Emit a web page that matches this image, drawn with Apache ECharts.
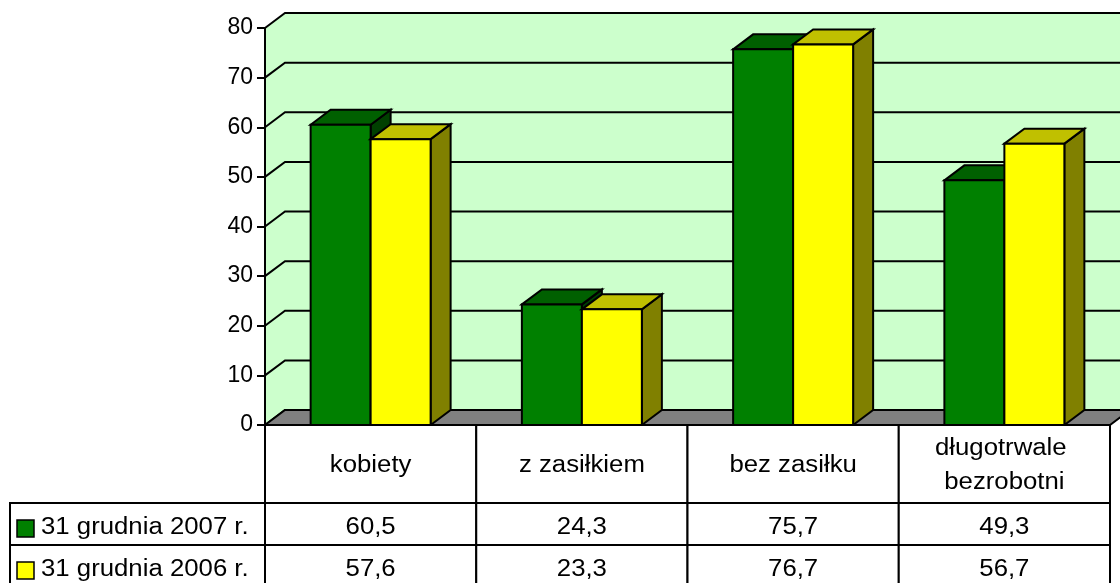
<!DOCTYPE html>
<html><head><meta charset="utf-8">
<script src="https://cdn.jsdelivr.net/npm/echarts/dist/echarts.min.js"></script>
<style>html,body{margin:0;padding:0;background:#fff}#c{width:1120px;height:583px}</style>
</head><body><div id="c"></div>
<script>
// ---- data ----
const categories = ['kobiety', 'z zasiłkiem', 'bez zasiłku', 'długotrwale bezrobotni'];
const seriesNames = ['31 grudnia 2007 r.', '31 grudnia 2006 r.'];
const values2007 = [60.5, 24.3, 75.7, 49.3];
const values2006 = [57.6, 23.3, 76.7, 56.7];
const yTicks = [0, 10, 20, 30, 40, 50, 60, 70, 80];

// ---- style ----
const DX = 20, DY = 15;            // 3D depth offset in px
const BAR_FRAC = 0.284;            // bar width as share of category band
const FONT = '"Liberation Sans", Arial, sans-serif';
const STRETCH = 1.12;              // horizontal stretch of table text
const HEADER_H = 78, ROW_H = 42, LEGEND_X = 10;
const FRONT = ['#008000', '#ffff00'];
const TOP = ['#006000', '#c0c000'];
const SIDE = ['#004000', '#808000'];
const WALL = '#ccffcc', FLOOR = '#808080';
const allValues = [values2007, values2006];

const chart = echarts.init(document.getElementById('c'));
const fmt = v => v.toFixed(1).replace('.', ',');
const line = {stroke: '#000', lineWidth: 2};

function barRender(s) {
  return function (params, api) {
    const cat = api.value(0), v = api.value(1);
    const top = api.coord([cat, v]), base = api.coord([cat, 0]);
    const band = api.size([1, 0])[0];
    const w = band * BAR_FRAC;
    const x0 = top[0] + (s === 0 ? -w : 0), x1 = x0 + w;
    const yT = top[1], yB = base[1];
    return {type: 'group', children: [
      {type: 'polygon', shape: {points: [[x1, yT], [x1 + DX, yT - DY], [x1 + DX, yB - DY], [x1, yB]]}, style: Object.assign({fill: SIDE[s]}, line)},
      {type: 'polygon', shape: {points: [[x0, yT], [x0 + DX, yT - DY], [x1 + DX, yT - DY], [x1, yT]]}, style: Object.assign({fill: TOP[s]}, line)},
      {type: 'rect', shape: {x: x0, y: yT, width: w, height: yB - yT}, style: Object.assign({fill: FRONT[s]}, line)}
    ]};
  };
}

function txt(x, y, text, align, extra) {
  return {type: 'text', x: x, y: y, scaleX: STRETCH,
    style: Object.assign({text: text, x: 0, y: 0, align: align, verticalAlign: 'middle',
      font: '23px ' + FONT, fill: '#000'}, extra || {})};
}

const option = {
  animation: false,
  grid: {left: 265, right: 10, top: 28, bottom: 158},
  xAxis: {type: 'category', data: categories, axisLine: {show: false}, axisTick: {show: false}, axisLabel: {show: false}},
  yAxis: {type: 'value', min: 0, max: 80, interval: 10, z: 10,
    axisLine: {show: true, lineStyle: {color: '#000', width: 2}},
    axisTick: {show: true, length: 8, lineStyle: {color: '#000', width: 2}},
    axisLabel: {color: '#000', fontSize: 23, fontFamily: FONT, margin: 12},
    splitLine: {show: false}},
  series: [
    { // walls
      type: 'custom', z: 1, silent: true, data: [[0, 0]],
      renderItem: function (params, api) {
        const cs = params.coordSys;
        const L = cs.x, R = cs.x + cs.width, T = cs.y, B = cs.y + cs.height;
        return {type: 'polygon', shape: {points: [[L, T], [L + DX, T - DY], [R + DX, T - DY], [R + DX, B - DY], [L + DX, B - DY], [L, B]]},
          style: {fill: WALL}};
      }
    },
    { // grid lines on the walls
      type: 'custom', z: 2, silent: true, data: yTicks.map(v => [0, v]),
      renderItem: function (params, api) {
        const cs = params.coordSys;
        const y = api.coord([0, api.value(1)])[1];
        return {type: 'polyline', shape: {points: [[cs.x, y], [cs.x + DX, y - DY], [cs.x + cs.width + DX, y - DY]]},
          style: {stroke: '#000', lineWidth: 2, fill: null}};
      }
    },
    { // floor
      type: 'custom', z: 3, silent: true, data: [[0, 0]],
      renderItem: function (params, api) {
        const cs = params.coordSys;
        const L = cs.x, R = cs.x + cs.width, B = cs.y + cs.height;
        return {type: 'polygon', shape: {points: [[L, B], [L + DX, B - DY], [R + DX, B - DY], [R, B]]},
          style: Object.assign({fill: FLOOR}, line)};
      }
    },
    {name: seriesNames[0], type: 'custom', z: 4, data: values2007.map((v, i) => [i, v]), renderItem: barRender(0)},
    {name: seriesNames[1], type: 'custom', z: 5, data: values2006.map((v, i) => [i, v]), renderItem: barRender(1)},
    { // data table
      type: 'custom', z: 6, silent: true, data: categories.map((c, i) => [i, 0]),
      renderItem: function (params, api) {
        const i = params.dataIndex;
        const p = api.coord([i, 0]);
        const band = api.size([1, 0])[0];
        const xl = p[0] - band / 2, y0 = p[1];
        const ch = [];
        ch.push({type: 'rect', shape: {x: xl, y: y0, width: band, height: HEADER_H}, style: Object.assign({fill: '#fff'}, line)});
        ch.push(txt(p[0], y0 + HEADER_H / 2 + 2, categories[i], 'center',
          {width: (band - 30) / STRETCH, overflow: 'break', lineHeight: 34}));
        for (let s = 0; s < 2; s++) {
          const ry = y0 + HEADER_H + s * ROW_H;
          ch.push({type: 'rect', shape: {x: xl, y: ry, width: band, height: ROW_H}, style: Object.assign({fill: '#fff'}, line)});
          ch.push(txt(p[0], ry + ROW_H / 2 + 4, fmt(allValues[s][i]), 'center'));
          if (i === 0) {
            ch.push({type: 'rect', shape: {x: LEGEND_X, y: ry, width: xl - LEGEND_X, height: ROW_H}, style: Object.assign({fill: '#fff'}, line)});
            ch.push({type: 'rect', shape: {x: LEGEND_X + 7, y: ry + 17, width: 17, height: 17}, style: {fill: FRONT[s], stroke: '#000', lineWidth: 1.5}});
            ch.push(txt(LEGEND_X + 31, ry + ROW_H / 2 + 4, seriesNames[s], 'left'));
          }
        }
        return {type: 'group', children: ch};
      }
    }
  ]
};
chart.setOption(option);
</script></body></html>
